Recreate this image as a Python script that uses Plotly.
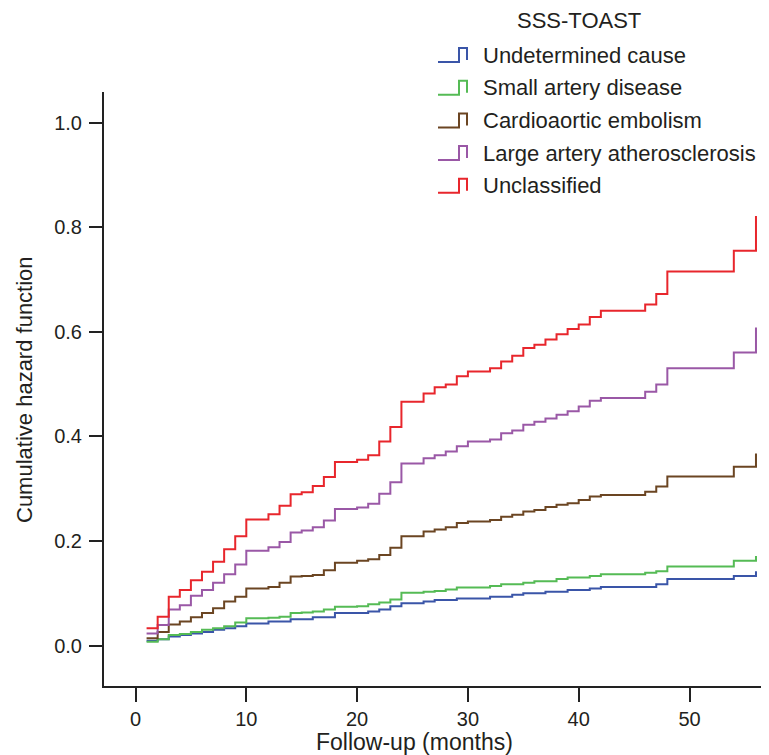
import plotly.graph_objects as go

# ---- data ----
months = [1, 2, 3, 4, 5, 6, 7, 8, 9, 10, 12, 13, 14, 15, 16, 17, 18, 20, 21, 22,
          23, 24, 26, 27, 28, 29, 30, 32, 33, 34, 35, 36, 37, 38, 39, 40, 41, 42,
          46, 47, 48, 54, 56]

undetermined = [0.009, 0.012, 0.017, 0.020, 0.023, 0.026, 0.030, 0.033, 0.037, 0.042,
                0.046, 0.046, 0.050, 0.050, 0.054, 0.054, 0.062, 0.062, 0.065, 0.069,
                0.075, 0.081, 0.084, 0.087, 0.087, 0.090, 0.090, 0.093, 0.093, 0.097,
                0.100, 0.100, 0.103, 0.103, 0.106, 0.106, 0.109, 0.112, 0.112, 0.117,
                0.127, 0.133, 0.142]

small_artery = [0.007, 0.012, 0.020, 0.022, 0.026, 0.030, 0.033, 0.037, 0.044, 0.052,
                0.053, 0.055, 0.062, 0.063, 0.065, 0.069, 0.074, 0.075, 0.079, 0.082,
                0.088, 0.101, 0.103, 0.104, 0.107, 0.111, 0.111, 0.114, 0.117, 0.117,
                0.120, 0.123, 0.123, 0.127, 0.130, 0.130, 0.133, 0.136, 0.139, 0.142,
                0.151, 0.162, 0.171]

cardioaortic = [0.014, 0.026, 0.040, 0.046, 0.054, 0.062, 0.071, 0.084, 0.093, 0.109,
                0.112, 0.120, 0.132, 0.133, 0.135, 0.144, 0.158, 0.162, 0.165, 0.173,
                0.187, 0.209, 0.218, 0.222, 0.226, 0.234, 0.237, 0.240, 0.246, 0.250,
                0.256, 0.259, 0.265, 0.269, 0.272, 0.278, 0.285, 0.288, 0.294, 0.304,
                0.323, 0.342, 0.367]

large_artery = [0.023, 0.039, 0.069, 0.077, 0.095, 0.106, 0.120, 0.136, 0.155, 0.181,
                0.188, 0.198, 0.216, 0.220, 0.226, 0.239, 0.261, 0.264, 0.271, 0.290,
                0.312, 0.348, 0.358, 0.364, 0.371, 0.381, 0.390, 0.394, 0.406, 0.411,
                0.422, 0.428, 0.434, 0.441, 0.448, 0.457, 0.468, 0.473, 0.485, 0.499,
                0.530, 0.560, 0.608]

unclassified = [0.033, 0.055, 0.093, 0.106, 0.125, 0.141, 0.160, 0.184, 0.209, 0.241,
                0.251, 0.267, 0.289, 0.293, 0.305, 0.322, 0.351, 0.355, 0.364, 0.390,
                0.418, 0.466, 0.482, 0.494, 0.499, 0.515, 0.524, 0.530, 0.543, 0.554,
                0.569, 0.575, 0.585, 0.595, 0.605, 0.614, 0.628, 0.640, 0.652, 0.672,
                0.715, 0.755, 0.821]

series_names = ["Undetermined cause", "Small artery disease", "Cardioaortic embolism",
                "Large artery atherosclerosis", "Unclassified"]
series_values = [undetermined, small_artery, cardioaortic, large_artery, unclassified]
series_colors = ["#3a55a8", "#55bb55", "#6b4522", "#9a58a6", "#e8262c"]

x_ticks = [0, 10, 20, 30, 40, 50]
y_ticks = [0.0, 0.2, 0.4, 0.6, 0.8, 1.0]
y_ticklabels = ["0.0", "0.2", "0.4", "0.6", "0.8", "1.0"]

legend_title = "SSS-TOAST"
x_title = "Follow-up (months)"
y_title = "Cumulative hazard function"

# ---- layout helpers (page-pixel positions; page body has an 8px margin) ----
OFF = 8
PAGE_W, PAGE_H = 769, 755
PL, PR, PT, PB = 104, 769, 92, 686          # plot area in page pixels
W, H = PAGE_W - OFF, PAGE_H - OFF
FONT = "Liberation Sans, Arial, Helvetica, sans-serif"
TXT = "#231f20"
X0, XS = 135.5, 11.08     # page x of month 0, px per month
Y0, YS = 645.5, 523.0     # page y of value 0, px per unit


def px(x):
    return (x - PL) / (PR - PL)


def py(y):
    return (PB - y) / (PB - PT)


fig = go.Figure()
for name, vals, color in zip(series_names, series_values, series_colors):
    fig.add_trace(go.Scatter(
        x=months, y=vals, mode="lines", name=name,
        line=dict(shape="hv", color=color, width=2),
        showlegend=False, hoverinfo="x+y+name"))

shapes = []
annotations = []

# custom legend with step glyphs
annotations.append(dict(text=legend_title, x=px(579), y=py(20), xref="paper", yref="paper",
                        xanchor="center", yanchor="middle", showarrow=False,
                        font=dict(size=22, color=TXT, family=FONT)))
for i, (name, color) in enumerate(zip(series_names, series_colors)):
    yc = 55 + i * 32.7
    path = (f"M {px(438)},{py(yc + 7)} L {px(459)},{py(yc + 7)} L {px(459)},{py(yc - 7)} "
            f"L {px(467)},{py(yc - 7)} L {px(467)},{py(yc + 5)}")
    shapes.append(dict(type="path", path=path, xref="paper", yref="paper",
                       line=dict(color=color, width=2)))
    annotations.append(dict(text=name, x=px(481), y=py(yc), xref="paper", yref="paper",
                            xanchor="left", yanchor="middle", showarrow=False,
                            font=dict(size=22, color=TXT, family=FONT)))

# axis titles
annotations.append(dict(text=x_title, x=px(414), y=py(742), xref="paper", yref="paper",
                        xanchor="center", yanchor="middle", showarrow=False,
                        font=dict(size=23, color=TXT, family=FONT)))
annotations.append(dict(text=y_title, x=px(24), y=py(390), xref="paper", yref="paper",
                        xanchor="center", yanchor="middle", showarrow=False, textangle=-90,
                        font=dict(size=22, color=TXT, family=FONT)))

fig.update_layout(
    width=W, height=H,
    margin=dict(l=PL - OFF, r=PAGE_W - PR, t=PT - OFF, b=PAGE_H - PB, pad=0),
    paper_bgcolor="white", plot_bgcolor="white",
    font=dict(family=FONT, size=20, color=TXT),
    showlegend=False,
    shapes=shapes,
    annotations=annotations,
    xaxis=dict(range=[(PL - X0) / XS, (PR - X0) / XS],
               tickvals=x_ticks, ticks="outside", ticklen=14, tickwidth=1.5,
               tickcolor="#222", showline=True, linecolor="#222", linewidth=2,
               showgrid=False, zeroline=False, tickfont=dict(size=20, color=TXT)),
    yaxis=dict(range=[(Y0 - PB) / YS, (Y0 - PT) / YS],
               tickvals=y_ticks, ticktext=y_ticklabels, ticks="outside", ticklen=13,
               tickwidth=1.5, tickcolor="#222", showline=True, linecolor="#222",
               linewidth=2, showgrid=False, zeroline=False, ticklabelstandoff=3,
               tickfont=dict(size=20, color=TXT)),
)

fig.write_html("out.html")
